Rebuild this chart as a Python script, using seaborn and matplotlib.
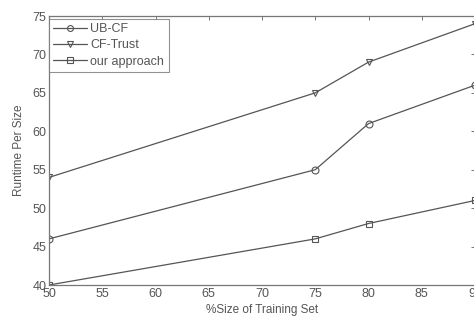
import matplotlib
matplotlib.use("Agg")
import matplotlib.pyplot as plt
import seaborn as sns
import pandas as pd

x_vals = [50, 75, 80, 90]
ubcf = [46, 55, 61, 66]
cftrust = [54, 65, 69, 74]
ours = [40, 46, 48, 51]
series_names = ["UB-CF", "CF-Trust", "our approach"]
markers = ["o", "v", "s"]

sns.set_theme(style="white")
plt.rcParams["font.family"] = ["Liberation Sans", "DejaVu Sans"]

df = pd.DataFrame({
    "x": x_vals * 3,
    "y": ubcf + cftrust + ours,
    "series": sum([[n] * len(x_vals) for n in series_names], []),
})

fig = plt.figure(figsize=(4.74, 3.2), dpi=100)
ax = fig.add_axes([49 / 474, 1 - 285 / 320, 426 / 474, 269 / 320])

line_col = "#555555"
for name, m in zip(series_names, markers):
    sub = df[df.series == name]
    sns.lineplot(data=sub, x="x", y="y", ax=ax, color=line_col, lw=0.9,
                 marker=m, markersize=5, markerfacecolor="none",
                 markeredgecolor=line_col, markeredgewidth=0.8, label=name)

ax.set_xlim(50, 90)
ax.set_ylim(40, 75)
ax.set_xticks(range(50, 91, 5))
ax.set_yticks(range(40, 76, 5))
ax.set_xlabel("%Size of Training Set", fontsize=8.5, color="#555555", labelpad=3)
ax.set_ylabel("Runtime Per Size", fontsize=8.5, color="#555555", labelpad=5)
ax.tick_params(direction="in", length=3, width=0.7, colors="#777777",
               labelcolor="#555555", labelsize=9, top=True, right=True, pad=2)
for s in ax.spines.values():
    s.set_color("#777777")
    s.set_linewidth(0.9)
    s.set_visible(True)

leg = ax.legend(loc="upper left", bbox_to_anchor=(0.0, 0.99), fontsize=9,
                frameon=True, fancybox=False, borderaxespad=0.0,
                handlelength=2.7, handletextpad=0.25, labelspacing=0.35,
                borderpad=0.35, labelcolor="#555555", markerscale=0.85)
leg.get_frame().set_edgecolor("#777777")
leg.get_frame().set_linewidth(0.8)

fig.savefig("out.png", dpi=100)
